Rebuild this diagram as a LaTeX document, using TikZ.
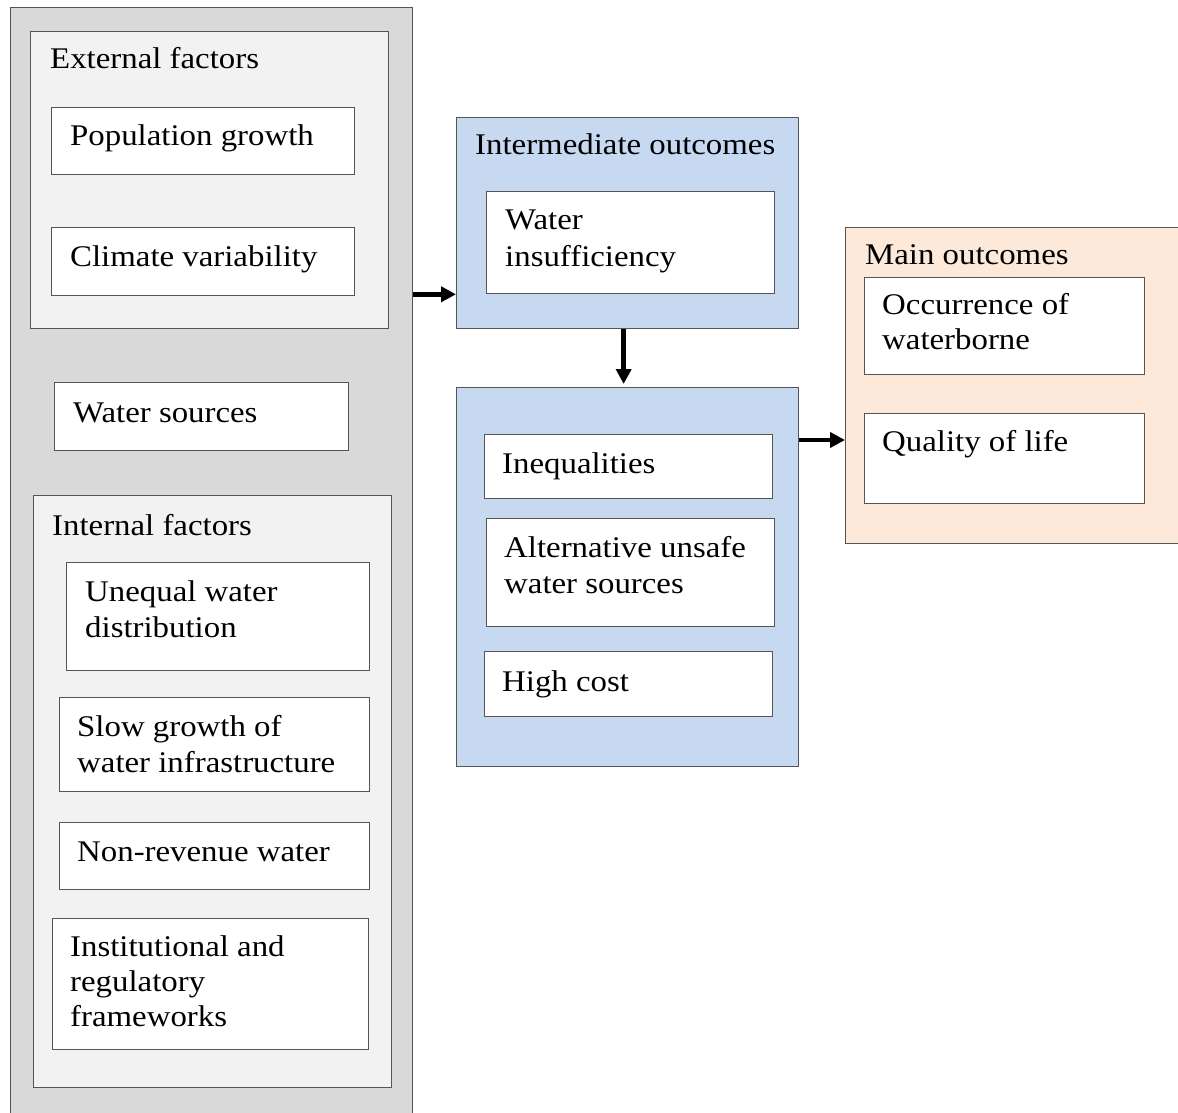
\documentclass[tikz,border=0pt]{standalone}
\usepackage{fontspec}
\setmainfont{Liberation Serif}[FakeStretch=1.095]
\usetikzlibrary{arrows.meta}
\definecolor{outergray}{HTML}{D9D9D9}
\definecolor{innergray}{HTML}{F2F2F2}
\definecolor{bluefill}{HTML}{C6D9F0}
\definecolor{peach}{HTML}{FDE9D9}
\definecolor{edge}{HTML}{555555}
\tikzset{
  frame/.style={draw=edge, line width=1.3pt, rectangle, inner sep=0pt, anchor=north west},
  lbl/.style={anchor=base west, inner sep=0pt, font=\fontsize{30}{36}\selectfont},
  arr/.style={-{Triangle[length=15pt,width=15pt]}, line width=4.5pt, black},
}
\newcommand{\boxat}[6]{% name, fill, x1, y1, x2, y2
  \node[frame, fill=#2, minimum width={(#5-#3)*1pt}, minimum height={(#6-#4)*1pt}] (#1) at (#3,#4) {};}
\begin{document}
\begin{tikzpicture}[x=1pt,y=-1pt]
\useasboundingbox (0,0) rectangle (1178,1113);
\fill[white] (0,0) rectangle (1178,1113);
% outer left column
\boxat{outer}{outergray}{10}{7}{412}{1130}
\boxat{ext}{innergray}{30}{31}{388}{328}
\boxat{pop}{white}{51}{107}{354}{174}
\boxat{clim}{white}{51}{227}{354}{295}
\boxat{src}{white}{54}{382}{348}{450}
\boxat{int}{innergray}{33}{495}{391}{1087}
\boxat{uneq}{white}{66}{562}{369}{670}
\boxat{slow}{white}{59}{697}{369}{791}
\boxat{nrw}{white}{59}{822}{369}{889}
\boxat{inst}{white}{52}{918}{368}{1049}
% intermediate
\boxat{inter}{bluefill}{456}{117}{798}{328}
\boxat{wins}{white}{486}{191}{774}{293}
\boxat{mid}{bluefill}{456}{387}{798}{766}
\boxat{ineq}{white}{484}{434}{772}{498}
\boxat{alt}{white}{486}{518}{774}{626}
\boxat{cost}{white}{484}{651}{772}{716}
% main
\boxat{main}{peach}{845}{227}{1180}{543}
\boxat{occ}{white}{864}{277}{1144}{374}
\boxat{qol}{white}{864}{413}{1144}{503}
% labels
\node[lbl] (tExt) at (50,69) {External factors};
\node[lbl] (tPop) at (70,146) {Population growth};
\node[lbl] (tClim) at (70,266) {Climate variability};
\node[lbl] (tSrc) at (73,422) {Water sources};
\node[lbl] (tInt) at (52,535) {Internal factors};
\node[lbl] (tUn1) at (85,601) {Unequal water};
\node[lbl] (tUn2) at (85,637) {distribution};
\node[lbl] (tSl1) at (77,736) {Slow growth of};
\node[lbl] (tSl2) at (77,772) {water infrastructure};
\node[lbl] (tNrw) at (77,861) {Non-revenue water};
\node[lbl] (tIn1) at (70,956) {Institutional and};
\node[lbl] (tIn2) at (70,991) {regulatory};
\node[lbl] (tIn3) at (70,1026) {frameworks};
\node[lbl] (tInter) at (475,154) {Intermediate outcomes};
\node[lbl] (tW1) at (505,229) {Water};
\node[lbl] (tW2) at (505,266) {insufficiency};
\node[lbl] (tIneq) at (502,473) {Inequalities};
\node[lbl] (tAl1) at (504,557) {Alternative unsafe};
\node[lbl] (tAl2) at (504,593) {water sources};
\node[lbl] (tCost) at (502,691) {High cost};
\node[lbl] (tMain) at (865,264) {Main outcomes};
\node[lbl] (tOc1) at (882,314) {Occurrence of};
\node[lbl] (tOc2) at (882,349) {waterborne};
\node[lbl] (tQol) at (882,451) {Quality of life};
% arrows
\draw[arr] (outer.east |- wins.south) -- (inter.west |- wins.south);
\draw[arr, shorten >=3pt] ([xshift=-4pt]inter.south) -- ([xshift=-4pt]mid.north);
\draw[arr] (mid.east |- 0,440) -- (main.west |- 0,440);
\end{tikzpicture}
\end{document}
